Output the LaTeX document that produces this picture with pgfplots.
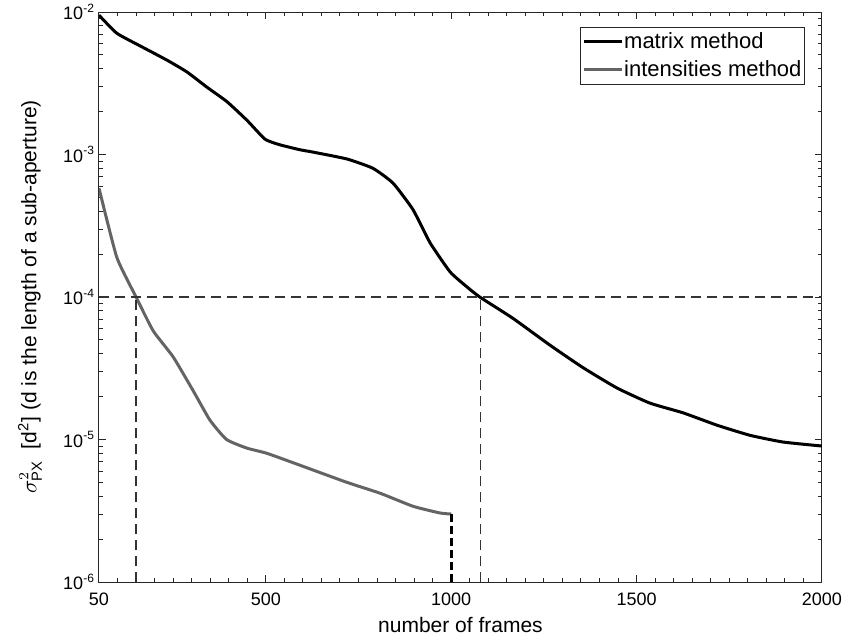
\documentclass[border=0pt]{standalone}
\usepackage{pgfplots}
\pgfplotsset{compat=1.18}
\usepackage{fontspec}
\setmainfont{Liberation Sans}
\definecolor{axgray}{gray}{0.15}
\definecolor{intgray}{RGB}{100,100,100}
\begin{document}
\begin{tikzpicture}
\useasboundingbox (-49.5pt,-28pt) rectangle (372pt,291pt);
\begin{axis}[
  scale only axis,
  width=361.5pt, height=285pt,
  xmin=50, xmax=2000,
  ymode=log, ymin=1e-6, ymax=1e-2,
  xtick={50,500,1000,1500,2000},
  xticklabels={50,500,1000,1500,2000},
  minor xtick={100,150,...,1950},
  ytick={1e-6,1e-5,1e-4,1e-3,1e-2},
  yticklabels={10\textsuperscript{-6},10\textsuperscript{-5},10\textsuperscript{-4},10\textsuperscript{-3},10\textsuperscript{-2}},
  minor ytick={2e-6,3e-6,4e-6,5e-6,6e-6,7e-6,8e-6,9e-6,2e-5,3e-5,4e-5,5e-5,6e-5,7e-5,8e-5,9e-5,2e-4,3e-4,4e-4,5e-4,6e-4,7e-4,8e-4,9e-4,2e-3,3e-3,4e-3,5e-3,6e-3,7e-3,8e-3,9e-3},
  tick align=inside,
  major tick length=3.5pt, minor tick length=2.2pt,
  axis line style={axgray, line width=0.5pt},
  every tick/.style={axgray, line width=0.5pt},
  ticklabel style={font=\fontsize{9}{10}\selectfont, text=black},
  xticklabel style={yshift=-2pt},
  yticklabel style={xshift=1.5pt},
  xlabel={number of frames},
  ylabel={$\sigma^2_{\mathrm{PX}}$\ \ [d\textsuperscript{2}] (d is the length of a sub-aperture)},
  label style={font=\fontsize{10.5}{12}\selectfont},
  xlabel style={at={(axis description cs:0.5,0)}, anchor=center, yshift=-21.5pt},
  ylabel style={at={(axis description cs:-0.0954,0.5)}, anchor=center},
  legend style={at={(rel axis cs:0.9765,0.9737)}, anchor=north east,
    font=\fontsize{11}{13}\selectfont, draw=axgray, line width=0.5pt,
    inner xsep=1pt, inner ysep=1pt, row sep=1.5pt,
    nodes={inner xsep=0.5pt, inner ysep=1.5pt}},
  legend cell align=left,
  legend image code/.code={\draw[#1] (0pt,0pt) -- (19pt,0pt);},
]
\addplot[black, line width=1.5pt, smooth, tension=0.3] coordinates {
(50,9.5e-3) (98,7.1e-3) (160,5.8e-3) (233,4.6e-3) (287,3.8e-3) (341,2.97e-3)
(395,2.35e-3) (449,1.74e-3) (498,1.28e-3) (538,1.17e-3) (592,1.08e-3) (627,1.04e-3)
(719,9.3e-4) (789,8.0e-4) (843,6.3e-4) (897,4.1e-4) (943,2.4e-4) (997,1.5e-4)
(1042,1.18e-4) (1077,1.0e-4) (1166,7.1e-5) (1266,4.6e-5) (1355,3.2e-5)
(1447,2.3e-5) (1536,1.8e-5) (1625,1.54e-5) (1717,1.26e-5) (1806,1.07e-5)
(1895,9.6e-6) (2000,9.0e-6)
};
\addlegendentry{matrix method}
\addplot[intgray, line width=1.5pt, smooth, tension=0.3] coordinates {
(50,5.8e-4) (98,1.9e-4) (150,1.0e-4) (196,5.8e-5) (250,3.8e-5) (304,2.2e-5)
(349,1.37e-5) (394,1.0e-5) (449,8.7e-6) (503,8.0e-6) (592,6.6e-6) (719,5.0e-6)
(808,4.2e-6) (897,3.4e-6) (970,3.05e-6) (1000,3.0e-6)
};
\addlegendentry{intensities method}
\addplot[black, line width=1.5pt, dash pattern=on 4pt off 2pt, forget plot] coordinates {(1000,3.0e-6) (1000,1e-6)};
\addplot[black!80, line width=0.6pt, dash pattern=on 5pt off 3pt, forget plot] coordinates {(50,1e-4) (2000,1e-4)};
\addplot[black!80, line width=0.6pt, dash pattern=on 5pt off 3pt, forget plot] coordinates {(150,1e-6) (150,1e-4)};
\addplot[black!80, line width=0.6pt, dash pattern=on 5pt off 3pt, forget plot] coordinates {(1078,1e-6) (1078,1e-4)};
\end{axis}
\end{tikzpicture}
\end{document}
